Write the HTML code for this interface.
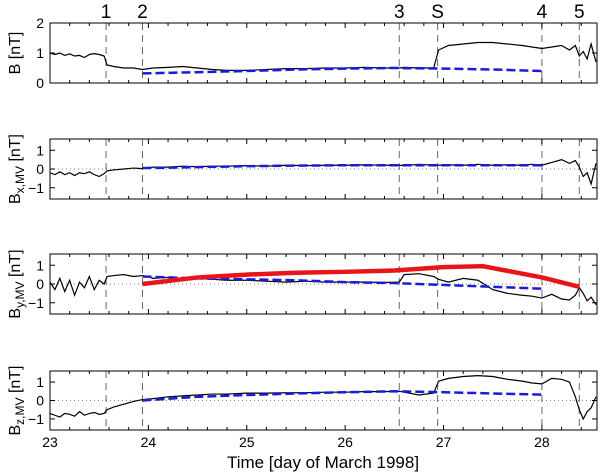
<!DOCTYPE html>
<html><head><meta charset="utf-8">
<style>
html,body{margin:0;padding:0;background:#fff;}
svg{display:block;font-family:"Liberation Sans",Arial,sans-serif;}
</style></head>
<body>
<svg id="chart" width="600" height="472" viewBox="0 0 600 472" xmlns="http://www.w3.org/2000/svg"></svg>
<script>
// ---- data ----
const eventDays = [23.57, 23.94, 26.55, 26.94, 28.0, 28.38];
const eventLabels = ["1", "2", "3", "S", "4", "5"];
const xTicks = [23, 24, 25, 26, 27, 28];
const panelTitles = ["B [nT]", "Bx,MV [nT]", "By,MV [nT]", "Bz,MV [nT]"];

const tDays = [23.0,23.05,23.1,23.15,23.2,23.25,23.3,23.35,23.4,23.45,23.5,23.55,23.58,23.65,23.75,23.85,23.94,24.05,24.2,24.35,24.5,24.65,24.8,25.0,25.2,25.4,25.6,25.8,26.0,26.2,26.4,26.55,26.6,26.75,26.9,26.95,27.05,27.2,27.35,27.5,27.65,27.8,27.9,28.0,28.1,28.2,28.28,28.34,28.38,28.42,28.46,28.5,28.55];
const bMag = [1.0,0.95,1.0,0.92,0.97,0.9,0.92,0.85,0.95,0.98,0.95,0.9,0.6,0.55,0.5,0.5,0.45,0.5,0.52,0.55,0.5,0.45,0.42,0.42,0.45,0.48,0.48,0.5,0.5,0.52,0.5,0.5,0.52,0.5,0.5,1.1,1.25,1.3,1.35,1.35,1.3,1.25,1.2,1.15,1.2,1.25,1.1,1.25,0.9,1.05,0.8,1.3,0.7];
const bX = [-0.2,-0.3,-0.15,-0.3,-0.2,-0.35,-0.2,-0.25,-0.15,-0.3,-0.4,-0.25,-0.1,-0.05,0.0,0.05,0.02,0.1,0.1,0.15,0.12,0.15,0.15,0.18,0.15,0.2,0.18,0.2,0.2,0.22,0.2,0.2,0.18,0.25,0.2,0.2,0.22,0.2,0.25,0.2,0.22,0.2,0.25,0.2,0.35,0.5,0.3,0.45,0.1,-0.4,-0.2,-0.8,0.3];
const bY = [0.1,-0.3,0.3,-0.4,0.2,-0.6,0.1,-0.2,0.4,-0.3,0.2,0.0,0.4,0.45,0.5,0.4,0.45,0.3,0.35,0.25,0.3,0.25,0.2,0.2,0.15,0.1,0.15,0.1,0.1,0.1,0.08,0.1,0.5,0.55,0.4,0.25,0.1,0.3,0.2,-0.3,-0.5,-0.6,-0.65,-0.75,-0.55,-0.8,-0.85,-0.6,-0.2,-0.5,-0.9,-0.7,-1.1];
const bZ = [-0.7,-0.8,-0.9,-0.7,-0.75,-0.85,-0.6,-0.8,-0.7,-0.65,-0.75,-0.7,-0.5,-0.35,-0.2,-0.05,0.05,0.1,0.2,0.25,0.3,0.35,0.35,0.4,0.4,0.42,0.42,0.45,0.45,0.48,0.48,0.5,0.45,0.3,0.4,1.05,1.2,1.3,1.35,1.3,1.15,1.05,0.95,0.9,1.2,1.15,1.0,0.2,-0.5,-1.0,-0.6,-0.4,0.2];

const fitDays = [23.94,24.5,25.0,25.5,26.0,26.5,27.0,27.5,28.0];
const fitB = [0.32,0.36,0.4,0.45,0.48,0.5,0.48,0.45,0.4];
const fitBx = [0.05,0.1,0.15,0.18,0.2,0.2,0.2,0.2,0.2];
const fitBy = [0.4,0.3,0.25,0.2,0.1,0.05,-0.05,-0.15,-0.25];
const fitBz = [0.0,0.2,0.3,0.38,0.45,0.5,0.45,0.38,0.32];
const redDays = [23.94,24.5,25.0,25.5,26.0,26.5,27.0,27.4,27.7,28.0,28.38];
const redBy = [0.0,0.35,0.5,0.6,0.65,0.72,0.9,0.95,0.65,0.35,-0.15];

// ---- layout ----
const NS="http://www.w3.org/2000/svg";
const svg=document.getElementById('chart');
const X0=50, X1=597, D0=23, D1=28.56;
const xs=d=>X0+(d-D0)/(D1-D0)*(X1-X0);
const panels=[
 {top:23,bot:83,min:0,max:2,ticks:[0,1,2],data:bMag,fit:fitB,name:'b-magnitude'},
 {top:139,bot:199,min:-1.6,max:1.6,ticks:[-1,0,1],data:bX,fit:fitBx,name:'bx-mv'},
 {top:254,bot:314,min:-1.6,max:1.6,ticks:[-1,0,1],data:bY,fit:fitBy,name:'by-mv'},
 {top:371,bot:430,min:-1.6,max:1.6,ticks:[-1,0,1],data:bZ,fit:fitBz,name:'bz-mv'}
];
function mk(tag,attrs,parent){const e=document.createElementNS(NS,tag);for(const k in attrs)e.setAttribute(k,attrs[k]);(parent||svg).appendChild(e);return e;}

panels.forEach((p,i)=>{
 const ys=v=>p.bot-(v-p.min)/(p.max-p.min)*(p.bot-p.top);
 const g=mk('g',{});
 
 
 if(p.min<0){const z=mk('line',{x1:X0,x2:X1,y1:ys(0),y2:ys(0),stroke:'#555','stroke-width':0.8,'stroke-dasharray':'1,3'},g);
  }
 eventDays.forEach(d=>{const l=mk('line',{x1:xs(d),x2:xs(d),y1:p.top,y2:p.bot,stroke:'#666','stroke-width':1,'stroke-dasharray':'7,5'},g);
  });
 // minor ticks
 for(let d=23;d<=28.56;d+=0.2){const x=xs(d);const major=Math.abs(d-Math.round(d))<0.01;const L=major?5:3;
  mk('line',{x1:x,x2:x,y1:p.bot,y2:p.bot-L,stroke:'#000','stroke-width':1},g);
  mk('line',{x1:x,x2:x,y1:p.top,y2:p.top+L,stroke:'#000','stroke-width':1},g);}
 p.ticks.forEach(v=>{const y=ys(v);
  mk('line',{x1:X0,x2:X0+5,y1:y,y2:y,stroke:'#000'},g);mk('line',{x1:X1,x2:X1-5,y1:y,y2:y,stroke:'#000'},g);
  const t=mk('text',{x:X0-6,y:y+5,'text-anchor':'end','font-size':14},g);t.textContent=v<0?'\u2212'+(-v):String(v);
  });
 const tr=mk('polyline',{points:tDays.map((d,j)=>xs(d)+','+ys(p.data[j])).join(' '),fill:'none',stroke:'#000','stroke-width':1.2},g);
 
 const ft=mk('polyline',{points:fitDays.map((d,j)=>xs(d)+','+ys(p.fit[j])).join(' '),fill:'none',stroke:'#1a1adc','stroke-width':2.5,'stroke-dasharray':'9,4'},g);
 
 if(i===2){const r=mk('polyline',{points:redDays.map((d,j)=>xs(d)+','+ys(redBy[j])).join(' '),fill:'none',stroke:'#e8141a','stroke-width':4.5,'stroke-linejoin':'round'},g);
  }
 const box=mk('rect',{x:X0,y:p.top,width:X1-X0,height:p.bot-p.top,fill:'none',stroke:'#000','stroke-width':1},g);
 
 // y title
 const cy=(p.top+p.bot)/2;
 const yt=mk('text',{x:0,y:0,'font-size':16,'text-anchor':'middle',transform:`translate(20,${cy}) rotate(-90)`},g);
 
 if(i===0){yt.textContent='B [nT]';}
 else{const sub=['x,MV','y,MV','z,MV'][i-1];
  const a=mk('tspan',{},yt);a.textContent='B';
  const b=mk('tspan',{'font-size':12,dy:4},yt);b.textContent=sub;
  const c=mk('tspan',{dy:-4},yt);c.textContent=' [nT]';}
});
eventDays.forEach((d,j)=>{const t=mk('text',{x:xs(d),y:18,'text-anchor':'middle','font-size':19});t.textContent=eventLabels[j];
 });
xTicks.forEach(d=>{const t=mk('text',{x:xs(d),y:447,'text-anchor':'middle','font-size':14});t.textContent=String(d);
 });
const xt=mk('text',{x:323,y:468,'text-anchor':'middle','font-size':17});xt.textContent='Time [day of March  1998]';

xt.setAttribute('xml:space','preserve');
</script>
</body></html>
